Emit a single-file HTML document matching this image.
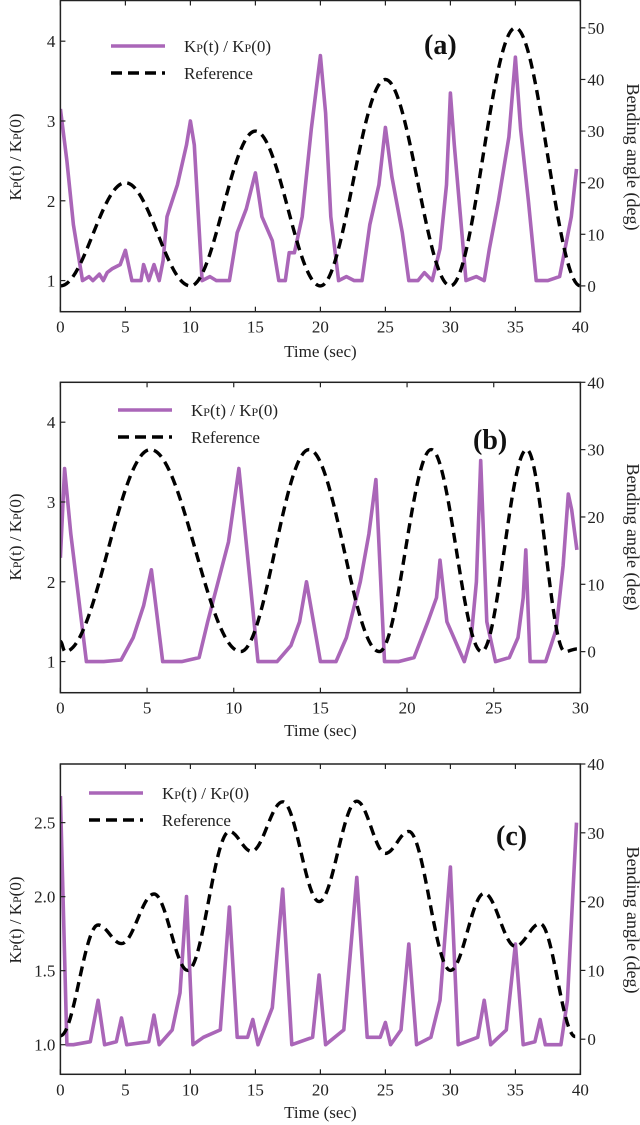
<!DOCTYPE html>
<html><head><meta charset="utf-8">
<style>
html,body{margin:0;padding:0;background:#fff;}
svg{display:block;font-family:"Liberation Serif",serif;}
</style></head>
<body>
<svg id="chart" width="640" height="1125" viewBox="0 0 640 1125"></svg>
<script>
// ---------- Panel (a) data ----------
const tA = [0,0.5,1,1.7,2.2,2.5,3,3.3,3.6,4,4.6,5,5.5,6.2,6.4,6.8,7.2,7.6,7.9,8.2,9,9.7,10,10.3,10.9,11.5,12,13,13.6,14.3,15,15.5,16.3,16.8,17.3,17.6,18,18.6,19.3,20,20.4,20.8,21.4,22,22.6,23.2,23.8,24.5,25,25.5,26.3,26.8,27.5,28,28.6,29.2,29.7,30,30.3,31.2,32,32.6,33,33.7,34.5,35,35.4,36,36.6,37.5,38.4,38.7,39.3,39.7];
const kA = [3.15,2.5,1.7,1.0,1.05,1.0,1.08,1.0,1.1,1.15,1.2,1.38,1.0,1.0,1.2,1.0,1.2,1.0,1.25,1.8,2.2,2.7,3.0,2.7,1.0,1.05,1.0,1.0,1.6,1.9,2.35,1.8,1.5,1.0,1.0,1.35,1.35,1.8,2.9,3.82,3.1,1.8,1.0,1.05,1.0,1.0,1.7,2.2,2.92,2.3,1.6,1.0,1.0,1.1,1.0,1.4,2.2,3.35,2.7,1.0,1.05,1.0,1.4,2.0,2.8,3.8,2.9,2.0,1.0,1.0,1.05,1.3,1.8,2.4];
const refTA = [0,5,10,15,20,25,30,35,40];
const refA = [0,20,0,30,0,40,0,50,0];
// ---------- Panel (b) data ----------
const tB = [0,0.24,0.6,1.5,2.5,3.5,4.2,4.8,5.25,5.9,7,8,8.5,9.7,10.3,11.4,12.5,13.3,13.8,14.2,15,15.9,16.5,17.3,17.8,18.2,18.7,19.5,20.4,21.2,21.7,21.9,22.3,22.9,23.3,23.7,24.0,24.25,24.6,25.1,25.9,26.4,26.7,26.85,27.1,28,28.6,29.0,29.3,29.5,29.8];
const kB = [2.3,3.42,2.6,1.0,1.0,1.02,1.3,1.7,2.15,1.0,1.0,1.05,1.5,2.5,3.42,1.0,1.0,1.2,1.5,2.0,1.0,1.0,1.3,2.0,2.6,3.28,1.0,1.0,1.05,1.5,1.8,2.27,1.5,1.2,1.0,1.3,2.0,3.52,1.5,1.0,1.05,1.3,1.8,2.4,1.0,1.0,1.4,2.2,3.1,2.9,2.4];
const refTB = [0,0.27,5.2,10.4,14.35,18.4,21.4,24.3,26.9,29.1,29.8];
const refB = [1.5,0,30,0,30,0,30,0,30,0,0.4];
// ---------- Panel (c) data ----------
const tC = [0,0.5,1,2.3,2.9,3.4,4.3,4.7,5.1,6.8,7.2,7.6,8.6,9.2,9.7,10.2,11,12.3,13.0,13.6,14.4,14.8,15.2,16.3,17.1,17.8,19.4,19.9,20.4,21.8,22.8,23.6,24.6,25.0,25.4,26.2,26.8,27.4,28.5,29.2,30.0,30.6,32.1,32.6,33.1,34.3,35.0,35.6,36.5,36.9,37.3,38.5,39.0,39.7];
const kC = [2.68,1.0,1.0,1.02,1.3,1.0,1.02,1.18,1.0,1.02,1.2,1.0,1.1,1.35,2.0,1.0,1.05,1.1,1.93,1.05,1.05,1.17,1.0,1.25,2.05,1.0,1.05,1.47,1.0,1.1,2.13,1.05,1.05,1.15,1.0,1.1,1.68,1.0,1.05,1.3,2.2,1.0,1.05,1.3,1.0,1.1,1.68,1.0,1.02,1.17,1.0,1.0,1.3,2.5];
const refTC = [0,2.9,4.7,7.2,9.8,13,14.7,17.1,19.9,22.8,25,26.8,30,32.6,35,36.9,39.6];
const refC = [0.5,16.6,13.9,21.1,10,30.2,27.3,34.5,20,34.6,27,30.2,10,21.2,13.5,16.8,0.4];

// tick labels
const xTicksA = [0,5,10,15,20,25,30,35,40];
const yTicksA = [1,2,3,4];
const rTicksA = [0,10,20,30,40,50];
const xTicksB = [0,5,10,15,20,25,30];
const yTicksB = [1,2,3,4];
const rTicksB = [0,10,20,30,40];
const xTicksC = [0,5,10,15,20,25,30,35,40];
const yTicksC = ["1.0","1.5","2.0","2.5"];
const rTicksC = [0,10,20,30,40];

const NS = "http://www.w3.org/2000/svg";
const svg = document.getElementById('chart');
function mk(tag, attrs, parent){
  const e = document.createElementNS(NS, tag);
  for (const k in attrs) e.setAttribute(k, attrs[k]);
  (parent||svg).appendChild(e);
  return e;
}
const PURPLE = "#aa66b8";

function panel(cfg){
  const g = mk('g', {});
  
  
  const L = 60.4, R = 580.4, T = cfg.top, B = cfg.bottom;
  const x = t => L + (t - cfg.x0) / (cfg.x1 - cfg.x0) * (R - L);
  const yL = v => B - (v - cfg.yl0) / (cfg.yl1 - cfg.yl0) * (B - T);
  const yR = v => B - (v - cfg.yr0) / (cfg.yr1 - cfg.yr0) * (B - T);
  const cp = mk('clipPath', {id: 'clip' + cfg.id}, g);
  mk('rect', {x: L, y: T, width: R - L, height: B - T}, cp);

  let d = '';
  cfg.t.forEach((t, i) => { d += (i ? 'L' : 'M') + x(t).toFixed(1) + ',' + yL(cfg.k[i]).toFixed(1); });
  const kp = mk('path', {d: d, fill: 'none', stroke: PURPLE, 'stroke-width': 3.6, 'stroke-linejoin': 'round', 'clip-path': 'url(#clip' + cfg.id + ')'}, g);
  
  

  let r = 'M' + x(cfg.rt[0]).toFixed(1) + ',' + yR(cfg.rv[0]).toFixed(1);
  for (let i = 1; i < cfg.rt.length; i++) {
    const x0 = x(cfg.rt[i-1]), y0 = yR(cfg.rv[i-1]), x1 = x(cfg.rt[i]), y1 = yR(cfg.rv[i]);
    const dx = (x1 - x0) * 0.364;
    r += 'C' + (x0+dx).toFixed(1) + ',' + y0.toFixed(1) + ' ' + (x1-dx).toFixed(1) + ',' + y1.toFixed(1) + ' ' + x1.toFixed(1) + ',' + y1.toFixed(1);
  }
  const rp = mk('path', {d: r, fill: 'none', stroke: '#000', 'stroke-width': 3.4, 'stroke-dasharray': '10,6', 'clip-path': 'url(#clip' + cfg.id + ')'}, g);
  
  

  const fr = mk('rect', {x: L, y: T, width: R - L, height: B - T, fill: 'none', stroke: '#222', 'stroke-width': 1.5}, g);
  
  

  cfg.xt.forEach(v => {
    const xx = x(v);
    mk('line', {x1: xx, x2: xx, y1: B, y2: B - 5, stroke: '#222', 'stroke-width': 1.2}, g);
    mk('line', {x1: xx, x2: xx, y1: T, y2: T + 5, stroke: '#222', 'stroke-width': 1.2}, g);
    const tx = mk('text', {x: xx, y: B + 21, 'text-anchor': 'middle', 'font-size': 17, fill: '#222'}, g);
    tx.textContent = v;
    
    
  });
  cfg.yt.forEach(v => {
    const yy = yL(parseFloat(v));
    mk('line', {x1: L, x2: L + 5, y1: yy, y2: yy, stroke: '#222', 'stroke-width': 1.2}, g);
    const tx = mk('text', {x: L - 5, y: yy + 6, 'text-anchor': 'end', 'font-size': 17, fill: '#222'}, g);
    tx.textContent = v;
    
    
  });
  cfg.rtk.forEach(v => {
    const yy = yR(v);
    mk('line', {x1: R, x2: R + 5, y1: yy, y2: yy, stroke: '#222', 'stroke-width': 1.2}, g);
    const tx = mk('text', {x: R + 7, y: yy + 6, 'text-anchor': 'start', 'font-size': 17, fill: '#222'}, g);
    tx.textContent = v;
    
    
  });
  const xl = mk('text', {x: (L + R) / 2, y: cfg.xlabY, 'text-anchor': 'middle', 'font-size': 17, fill: '#222'}, g);
  xl.textContent = 'Time (sec)';
  
  
  const yl = mk('text', {x: 0, y: 0, 'text-anchor': 'middle', 'font-size': 17, fill: '#222', transform: 'translate(21,' + cfg.ylabY + ') rotate(-90)'}, g);
  yl.innerHTML = 'K<tspan font-size="12">P</tspan>(t) / K<tspan font-size="12">P</tspan>(0)';
  
  
  const yr = mk('text', {x: 0, y: 0, 'text-anchor': 'middle', 'font-size': 18, fill: '#222', transform: 'translate(627,' + cfg.yrabY + ') rotate(90)'}, g);
  yr.textContent = 'Bending angle (deg)';
  
  

  const lg = mk('g', {}, g);
  
  
  mk('line', {x1: cfg.lx, x2: cfg.lx + 54, y1: cfg.ly, y2: cfg.ly, stroke: PURPLE, 'stroke-width': 3.5}, lg);
  const l1 = mk('text', {x: cfg.lx + 73, y: cfg.ly + 6, 'font-size': 17, fill: '#222'}, lg);
  l1.innerHTML = 'K<tspan font-size="12">P</tspan>(t) / K<tspan font-size="12">P</tspan>(0)';
  
  
  mk('line', {x1: cfg.lx, x2: cfg.lx + 54, y1: cfg.ly + 27, y2: cfg.ly + 27, stroke: '#000', 'stroke-width': 3.5, 'stroke-dasharray': '11,6'}, lg);
  const l2 = mk('text', {x: cfg.lx + 73, y: cfg.ly + 33, 'font-size': 17, fill: '#222'}, lg);
  l2.textContent = 'Reference';
  
  

  const pl = mk('text', {x: cfg.px, y: cfg.py, 'font-size': 28, 'font-weight': 'bold', fill: '#111'}, g);
  pl.textContent = '(' + cfg.id + ')';
  
  
}

panel({id:'a', top:0.5, bottom:311.7, x0:0, x1:40, yl0:0.61, yl1:4.51, yr0:-5, yr1:55.3,
  t:tA, k:kA, rt:refTA, rv:refA, xt:xTicksA, yt:yTicksA, rtk:rTicksA,
  xlabY:357, ylabY:157, yrabY:157, lx:111, ly:46, px:424, py:54});
panel({id:'b', top:382.3, bottom:692.7, x0:0, x1:30, yl0:0.61, yl1:4.50, yr0:-6.1, yr1:40,
  t:tB, k:kB, rt:refTB, rv:refB, xt:xTicksB, yt:yTicksB, rtk:rTicksB,
  xlabY:736, ylabY:537, yrabY:537, lx:118, ly:410, px:473, py:449});
panel({id:'c', top:764, bottom:1074.3, x0:0, x1:40, yl0:0.80, yl1:2.896, yr0:-5.1, yr1:40,
  t:tC, k:kC, rt:refTC, rv:refC, xt:xTicksC, yt:yTicksC, rtk:rTicksC,
  xlabY:1118, ylabY:920, yrabY:920, lx:89, ly:793, px:496, py:845});
</script>
</body></html>
